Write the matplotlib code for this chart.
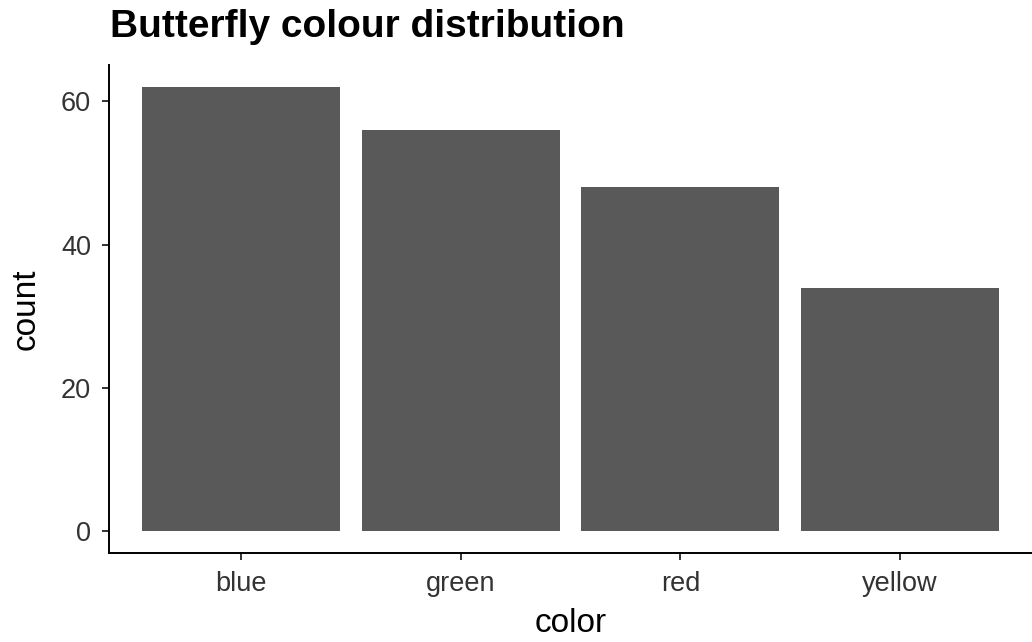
import matplotlib
matplotlib.use("Agg")
import matplotlib.pyplot as plt

categories = ["blue", "green", "red", "yellow"]
counts = [62, 56, 48, 34]
yticks = [0, 20, 40, 60]

plt.rcParams['font.family'] = ['Liberation Sans', 'DejaVu Sans']

fig = plt.figure(figsize=(10.32, 6.42), dpi=100)
L, R, T, B = 109, 1032, 65, 553
ax = fig.add_axes([L/1032, 1 - B/642, (R-L)/1032, (B-T)/642])

x = list(range(1, len(categories) + 1))
ax.bar(x, counts, width=0.9, color="#595959")
ax.set_xlim(0.4, 4.6)
ax.set_ylim(-62*0.05, 62*1.05)
ax.set_xticks(x)
ax.set_xticklabels(categories)
ax.set_yticks(yticks)
for s in ["top", "right"]:
    ax.spines[s].set_visible(False)
for s in ["left", "bottom"]:
    ax.spines[s].set_linewidth(1.4)
    ax.spines[s].set_color("black")
ax.tick_params(axis="both", labelsize=19.5, length=5, width=1.4, color="#333333", labelcolor="#333333")
ax.tick_params(axis="x", pad=8)
ax.tick_params(axis="y", pad=8)
ax.set_xlabel("color", fontsize=24, color="black", labelpad=8)
ax.set_ylabel("count", fontsize=24, color="black", labelpad=14)
fig.text(110/1032, 1 - 27/642, "Butterfly colour distribution", fontsize=28, fontweight="bold", va="center", ha="left")

fig.savefig("out.png", dpi=100)
